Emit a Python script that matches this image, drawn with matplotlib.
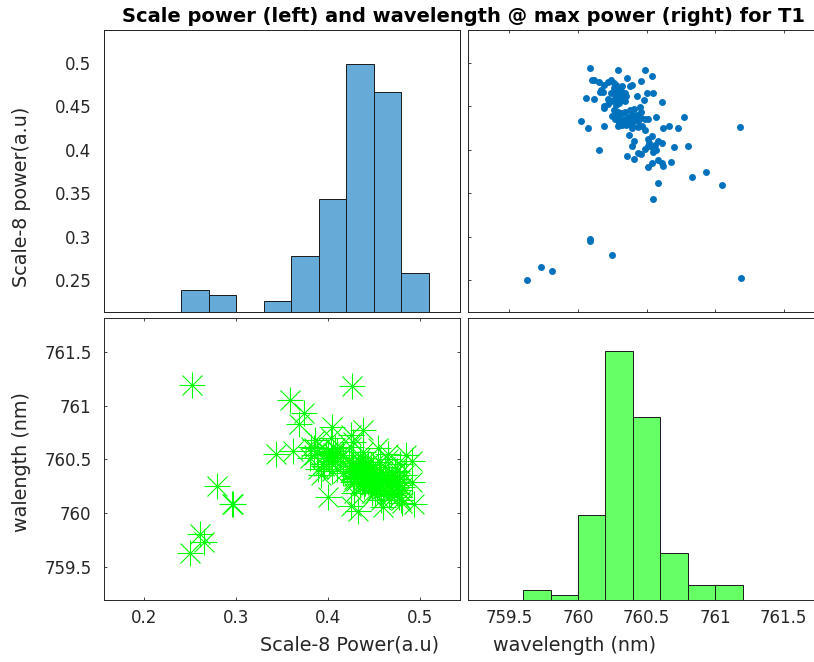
import numpy as np
import matplotlib
matplotlib.use("Agg")
import matplotlib.pyplot as plt
from matplotlib.ticker import FormatStrFormatter

# peak wavelength (nm) and scale-8 power (a.u) for every sample
wavelength = [
    759.63, 759.73, 759.81, 761.19, 760.09, 760.09, 760.25, 760.55, 761.05,
    760.58, 760.83, 760.93, 760.51, 760.54, 760.61, 760.62, 760.41, 760.68, 760.58,
    760.36, 760.46, 760.39, 760.41, 760.37, 760.15, 760.80, 760.70, 760.51, 760.54,
    760.52, 760.51, 760.54, 760.56, 760.58, 760.61, 760.57, 760.55, 760.49, 760.44,
    760.02, 760.07, 760.19, 760.77, 760.73, 760.57, 760.66, 760.62, 760.38, 760.34,
    760.32, 760.29, 760.25, 760.27, 760.29, 760.30, 760.32, 760.29, 760.34, 760.37,
    760.39, 760.41, 760.44, 760.46, 760.49, 760.51, 760.47, 760.49, 760.44, 760.39,
    760.39, 760.45, 760.41, 760.19, 760.26, 760.28, 760.30, 760.33, 760.35, 760.38,
    760.39, 760.43, 760.46, 761.18,
    760.12, 760.15, 760.17, 760.18, 760.19, 760.22, 760.26, 760.28, 760.30, 760.32,
    760.34, 760.24, 760.22, 760.24, 760.27, 760.30, 760.32, 760.33, 760.19, 760.22,
    760.39, 760.38, 760.43, 760.48, 760.50, 760.55, 760.61, 760.06, 760.12, 760.46,
    760.16, 760.27, 760.30, 760.34, 760.28, 760.26, 760.32, 760.35, 760.28,
    760.09, 760.29, 760.49, 760.54, 760.36, 760.10, 760.24,
]
power = [
    0.250, 0.265, 0.261, 0.252, 0.297, 0.295, 0.279, 0.344, 0.359,
    0.362, 0.369, 0.374, 0.380, 0.385, 0.385, 0.382, 0.389, 0.386, 0.388,
    0.393, 0.395, 0.404, 0.410, 0.417, 0.400, 0.405, 0.403, 0.413, 0.416,
    0.408, 0.404, 0.403, 0.406, 0.410, 0.408, 0.400, 0.398, 0.401, 0.396,
    0.433, 0.425, 0.428, 0.438, 0.425, 0.438, 0.427, 0.425, 0.446, 0.444,
    0.442, 0.444, 0.439, 0.435, 0.437, 0.431, 0.429, 0.427, 0.435, 0.438,
    0.440, 0.435, 0.433, 0.437, 0.435, 0.435, 0.427, 0.423, 0.426, 0.427,
    0.425, 0.449, 0.447, 0.448, 0.446, 0.440, 0.438, 0.433, 0.429, 0.433,
    0.431, 0.440, 0.444, 0.426,
    0.480, 0.478, 0.469, 0.467, 0.475, 0.478, 0.477, 0.475, 0.470, 0.467,
    0.465, 0.465, 0.458, 0.456, 0.460, 0.462, 0.458, 0.460, 0.451, 0.453,
    0.475, 0.473, 0.462, 0.457, 0.466, 0.466, 0.455, 0.460, 0.458, 0.479,
    0.467, 0.465, 0.454, 0.456, 0.452, 0.471, 0.473, 0.462, 0.456,
    0.494, 0.492, 0.492, 0.485, 0.483, 0.481, 0.481,
]

# histogram bins and counts as shown on the diagonal
power_edges = [0.24, 0.27, 0.30, 0.33, 0.36, 0.39, 0.42, 0.45, 0.48, 0.51]
power_counts = [4, 3, 0, 2, 10, 20, 44, 39, 7]
wave_edges = [759.6, 759.8, 760.0, 760.2, 760.4, 760.6, 760.8, 761.0, 761.2]
wave_counts = [2, 1, 18, 53, 39, 10, 3, 3]

power_xticks = [0.2, 0.3, 0.4, 0.5]
power_yticks = [0.25, 0.3, 0.35, 0.4, 0.45, 0.5]
wave_ticks = [759.5, 760, 760.5, 761, 761.5]

W, H = 814, 662
AXCOL = "#262626"
fig = plt.figure(figsize=(W / 100, H / 100), dpi=100)


def px_axes(left, top, right, bottom):
    return fig.add_axes([left / W, 1 - bottom / H, (right - left) / W, (bottom - top) / H])


def frame(ax):
    for s in ax.spines.values():
        s.set_color(AXCOL)
        s.set_linewidth(0.7)
    ax.tick_params(colors=AXCOL, labelcolor=AXCOL, labelsize=12, direction="in",
                   length=2.5, width=0.6, top=True, right=True)


power_lim = (0.156, 0.544)
power_ylim = (0.213, 0.538)
wave_lim = (759.20, 761.81)

# top left: power histogram
ax_tl = px_axes(104, 30, 460, 312.3)
frame(ax_tl)
ax_tl.set_xlim(power_lim)
ax_tl.set_ylim(power_ylim)
ax_tl.set_xticks([])
ax_tl.set_yticks(power_yticks)
ax_tl.yaxis.set_major_formatter(FormatStrFormatter("%g"))
ax_tl.tick_params(axis="y", length=0, pad=9, right=False)
ax_h = ax_tl.twinx()
frame(ax_h)
ax_h.bar(power_edges[:-1], power_counts, width=np.diff(power_edges), align="edge",
         color="#66AAD7", edgecolor="#1a1a1a", linewidth=0.7)
ax_h.set_ylim(0, 50)
ax_h.set_yticks([])
ax_h.set_xlim(power_lim)

# top right: power vs wavelength
ax_tr = px_axes(468.3, 30, 826.3, 312.3)
frame(ax_tr)
ax_tr.plot(wavelength, power, "o", color="#0072BD", ms=5, mec="none")
ax_tr.set_xlim(wave_lim)
ax_tr.set_ylim(power_ylim)
ax_tr.set_xticks(wave_ticks)
ax_tr.set_yticks(power_yticks)
ax_tr.tick_params(labelbottom=False, labelleft=False)

# bottom left: wavelength vs power
ax_bl = px_axes(104, 318.3, 460, 599.5)
frame(ax_bl)
ax_bl.plot(power, wavelength, "+", color="#00FF00", ms=19, mew=0.8)
ax_bl.plot(power, wavelength, "x", color="#00FF00", ms=14, mew=0.8)
ax_bl.set_xlim(power_lim)
ax_bl.set_ylim(wave_lim)
ax_bl.set_xticks(power_xticks)
ax_bl.set_yticks(wave_ticks)
ax_bl.xaxis.set_major_formatter(FormatStrFormatter("%g"))
ax_bl.yaxis.set_major_formatter(FormatStrFormatter("%g"))
ax_bl.tick_params(axis="y", pad=9)
ax_bl.tick_params(axis="x", pad=7)

# bottom right: wavelength histogram
ax_br = px_axes(468.3, 318.3, 826.3, 599.5)
frame(ax_br)
ax_br.bar(wave_edges[:-1], wave_counts, width=np.diff(wave_edges), align="edge",
          color="#66FF66", edgecolor="#1a1a1a", linewidth=0.7)
ax_br.set_xlim(wave_lim)
ax_br.set_ylim(0, 60)
ax_br.set_xticks(wave_ticks)
ax_br.set_yticks([])
ax_br.xaxis.set_major_formatter(FormatStrFormatter("%g"))
ax_br.tick_params(axis="x", length=0, pad=7)

fig.text(463.5 / W, 1 - 21.7 / H,
         "Scale power (left) and wavelength @ max power (right) for T1",
         ha="center", va="baseline", fontsize=14, fontweight="bold", color="black")
fig.text(350 / W, 1 - 650.7 / H, "Scale-8 Power(a.u)", ha="center", va="baseline",
         fontsize=13.8, color=AXCOL)
fig.text(575 / W, 1 - 650.7 / H, "wavelength (nm)", ha="center", va="baseline",
         fontsize=13.8, color=AXCOL)
fig.text(22 / W, 1 - 197 / H, "Scale-8 power(a.u)", ha="center", va="center",
         rotation=90, fontsize=13.8, color=AXCOL)
fig.text(22 / W, 1 - 462 / H, "walength (nm)", ha="center", va="center",
         rotation=90, fontsize=13.8, color=AXCOL)

fig.savefig("out.png", dpi=100)
